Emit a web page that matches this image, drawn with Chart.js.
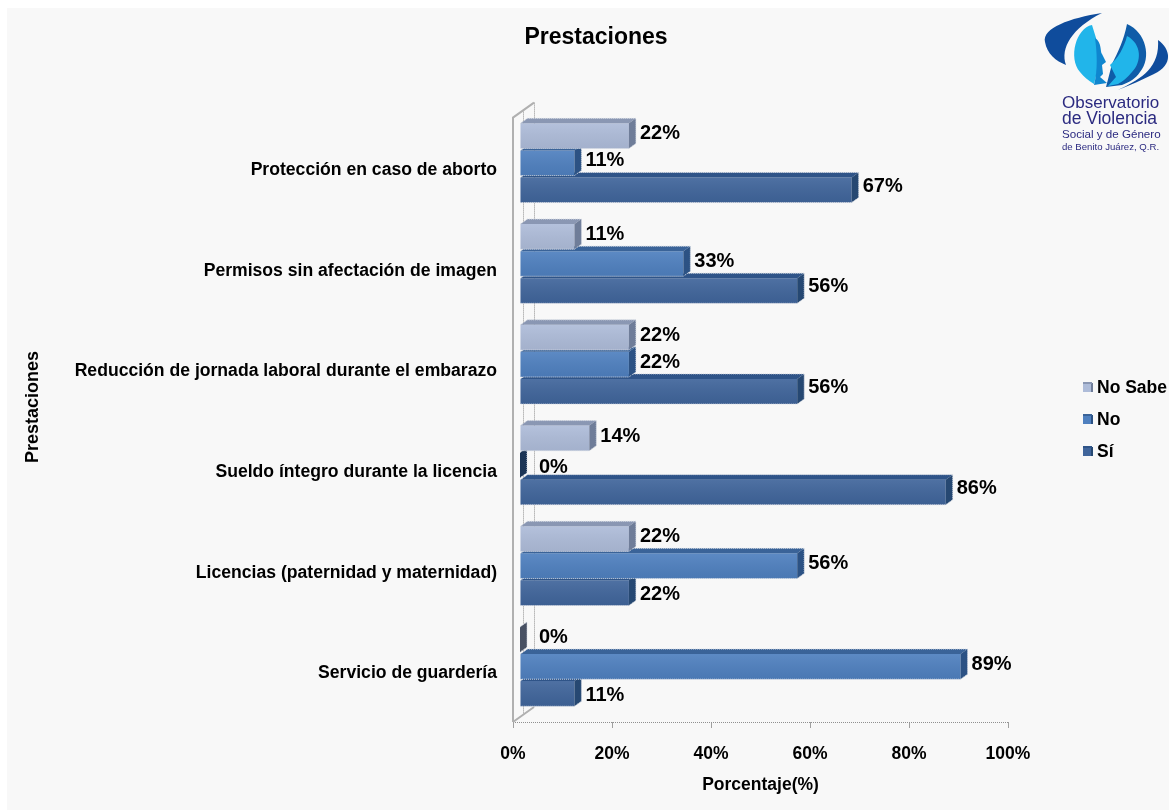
<!DOCTYPE html>
<html>
<head>
<meta charset="utf-8">
<style>
  html, body { margin: 0; padding: 0; background: #fff; }
  #wrap { position: relative; width: 1169px; height: 810px; }
</style>
<script src="https://cdn.jsdelivr.net/npm/chart.js@4"></script>
</head>
<body>
<div id="wrap"><canvas id="chart" width="1169" height="810"></canvas></div>
<script>
const categories = [
  'Protección en caso de aborto',
  'Permisos sin afectación de imagen',
  'Reducción de jornada laboral durante el embarazo',
  'Sueldo íntegro durante la licencia',
  'Licencias (paternidad y maternidad)',
  'Servicio de guardería'
];
const noSabe = [22, 11, 22, 14, 22, 0];
const no = [11, 33, 22, 0, 56, 89];
const si = [67, 56, 56, 86, 22, 11];
const xTicks = [0, 20, 40, 60, 80, 100];
const legendLabels = ['No Sabe', 'No', 'Sí'];
const logoLines = ['Observatorio', 'de Violencia', 'Social y de Género', 'de Benito Juárez, Q.R.'];

// front, top and side colours for each series
const faces = [
  { front: '#aebcd9', top: '#8a97b3', side: '#6f7d99' },
  { front: '#4f80bf', top: '#3a6398', side: '#2c5284' },
  { front: '#40659b', top: '#2f5488', side: '#264872' }
];
const DX = 7, DY = -5;
const FONT = '"Liberation Sans", Arial, sans-serif';

// panel behind everything and the 3D wall of the plot
const backdrop = {
  id: 'backdrop',
  afterLayout(chart) {
    // title is centred on the page panel, not on the padded plot box
    chart.titleBlock.left += 80;
    chart.titleBlock.right += 80;
  },
  beforeDraw(chart) {
    const { ctx } = chart;
    ctx.save();
    ctx.fillStyle = '#f8f8f8';
    ctx.fillRect(7, 8, 1162, 802);
    ctx.restore();
  },
  beforeDatasetsDraw(chart) {
    const { ctx, chartArea: a } = chart;
    ctx.save();
    // back wall dotted edges
    ctx.strokeStyle = '#909090';
    ctx.lineWidth = 1;
    ctx.setLineDash([1, 1]);
    ctx.beginPath();
    ctx.moveTo(a.left + 21.5, a.top - 15);
    ctx.lineTo(a.left + 21.5, a.bottom - 15);
    ctx.moveTo(a.left + 10.5, a.top - 8);
    ctx.lineTo(a.left + 10.5, a.bottom - 8);
    ctx.moveTo(a.left, a.bottom + 0.5);
    ctx.lineTo(a.right, a.bottom + 0.5);
    ctx.stroke();
    ctx.setLineDash([]);
    // side wall
    ctx.strokeStyle = '#b0b0b0';
    ctx.lineWidth = 2;
    ctx.beginPath();
    ctx.moveTo(a.left, a.bottom);
    ctx.lineTo(a.left, a.top);
    ctx.lineTo(a.left + 21, a.top - 15);
    ctx.moveTo(a.left, a.bottom);
    ctx.lineTo(a.left + 21, a.bottom - 15);
    ctx.stroke();
    ctx.restore();
    // bars sit a little inside the wall depth
    ctx.save();
    ctx.translate(DX, DY);
  },
  afterDatasetsDraw(chart) {
    chart.ctx.restore();
  }
};

// top and side faces of every bar, drawn from the bar elements
const faces3d = {
  id: 'faces3d',
  afterDatasetDraw(chart, args) {
    const { ctx } = chart;
    const f = faces[args.index];
    for (const bar of chart.getDatasetMeta(args.index).data) {
      const h = bar.height, t = bar.y - h / 2, b = bar.y + h / 2;
      const l = bar.base, r = bar.x;
      const shade = ctx.createLinearGradient(0, t, 0, b);
      shade.addColorStop(0, 'rgba(255,255,255,0.08)');
      shade.addColorStop(1, 'rgba(0,0,0,0.06)');
      ctx.fillStyle = shade;
      ctx.fillRect(l, t, r - l, h);
      ctx.fillStyle = f.top;
      ctx.beginPath();
      ctx.moveTo(l, t); ctx.lineTo(l + DX, t + DY); ctx.lineTo(r + DX, t + DY); ctx.lineTo(r, t);
      ctx.closePath(); ctx.fill();
      ctx.fillStyle = f.side;
      ctx.beginPath();
      ctx.moveTo(r, t); ctx.lineTo(r + DX, t + DY); ctx.lineTo(r + DX, b + DY); ctx.lineTo(r, b);
      ctx.closePath(); ctx.fill();
      // empty bars only show a dark sliver
      if (r - l < 1) {
        ctx.fillStyle = 'rgba(0,0,0,0.35)';
        ctx.fill();
      }
      // speckled light edge round the top and the side
      ctx.save();
      ctx.strokeStyle = '#d4d9e2';
      ctx.lineWidth = 1;
      ctx.setLineDash([1, 1]);
      ctx.beginPath();
      ctx.moveTo(l, t);
      ctx.lineTo(l + DX, t + DY);
      ctx.lineTo(r + DX, t + DY);
      ctx.lineTo(r + DX, b + DY);
      ctx.lineTo(r, b);
      ctx.lineTo(l, b);
      ctx.stroke();
      ctx.restore();
    }
  }
};

// value labels, legend, rotated axis title and logo text
const annotations = {
  id: 'annotations',
  afterDraw(chart) {
    const { ctx } = chart;
    ctx.save();
    ctx.fillStyle = '#000';
    ctx.font = 'bold 20px ' + FONT;
    ctx.textBaseline = 'middle';
    chart.data.datasets.forEach((ds, i) => {
      chart.getDatasetMeta(i).data.forEach((bar, j) => {
        const v = ds.data[j];
        // labels ride up unless the row under them is free
        let lift = i === 2 ? -4 : -2;
        if (i === 2 && v < no[j]) lift = 2;
        if (i === 1 && v === 0) lift = 2;
        ctx.fillText(v + '%', bar.x + DX + DX + 4 + (v === 0 ? 8 : 0), bar.y + DY + lift);
      });
    });

    ctx.font = 'bold 18px ' + FONT;
    ctx.save();
    ctx.translate(33, 407);
    ctx.rotate(-Math.PI / 2);
    ctx.textAlign = 'center';
    ctx.fillText('Prestaciones', 0, 0);
    ctx.restore();

    ctx.font = 'bold 17.5px ' + FONT;
    legendLabels.forEach((label, i) => {
      const y = 388 + i * 32;
      const f = faces[i];
      ctx.fillStyle = f.front;
      ctx.fillRect(1083, y - 4, 8, 8);
      ctx.fillStyle = f.side;
      ctx.fillRect(1091, y - 5, 2, 9);
      ctx.fillStyle = f.top;
      ctx.fillRect(1083, y - 6, 9, 2);
      ctx.fillStyle = '#000';
      ctx.fillText(label, 1097, y);
    });
    drawLogo(ctx);
    ctx.restore();
  }
};

function drawLogo(ctx) {
  ctx.save();
  // outer swooshes
  ctx.fillStyle = '#0f4c9c';
  ctx.beginPath();
  ctx.moveTo(1102, 13);
  ctx.bezierCurveTo(1070, 18, 1042, 28, 1045, 42);
  ctx.bezierCurveTo(1047, 54, 1056, 61, 1066, 65);
  ctx.bezierCurveTo(1060, 48, 1072, 28, 1102, 13);
  ctx.fill();
  ctx.beginPath();
  ctx.moveTo(1158, 40);
  ctx.bezierCurveTo(1172, 50, 1172, 66, 1154, 74);
  ctx.bezierCurveTo(1142, 80, 1130, 85, 1118, 90);
  ctx.bezierCurveTo(1138, 80, 1160, 70, 1158, 40);
  ctx.fill();
  // left head
  ctx.fillStyle = '#21b5ea';
  ctx.beginPath();
  ctx.moveTo(1092, 25);
  ctx.bezierCurveTo(1076, 28, 1068, 58, 1080, 72);
  ctx.bezierCurveTo(1084, 77, 1088, 80, 1094, 84);
  ctx.lineTo(1100, 60);
  ctx.lineTo(1096, 38);
  ctx.closePath();
  ctx.fill();
  // left face
  ctx.fillStyle = '#0f86cf';
  ctx.beginPath();
  ctx.moveTo(1095, 38);
  ctx.bezierCurveTo(1102, 42, 1100, 52, 1102, 54);
  ctx.lineTo(1106, 62);
  ctx.lineTo(1102, 65);
  ctx.lineTo(1103, 74);
  ctx.lineTo(1100, 77);
  ctx.lineTo(1107, 83);
  ctx.lineTo(1094, 85);
  ctx.bezierCurveTo(1098, 70, 1097, 52, 1095, 38);
  ctx.fill();
  // right head
  ctx.fillStyle = '#0f5ca8';
  ctx.beginPath();
  ctx.moveTo(1127, 24);
  ctx.bezierCurveTo(1146, 32, 1152, 58, 1140, 72);
  ctx.bezierCurveTo(1136, 78, 1130, 82, 1122, 85);
  ctx.lineTo(1106, 87);
  ctx.lineTo(1112, 64);
  ctx.bezierCurveTo(1118, 52, 1124, 40, 1127, 24);
  ctx.fill();
  // right face
  ctx.fillStyle = '#21b5ea';
  ctx.beginPath();
  ctx.moveTo(1127, 36);
  ctx.bezierCurveTo(1142, 44, 1142, 62, 1132, 72);
  ctx.bezierCurveTo(1128, 77, 1122, 82, 1118, 84);
  ctx.lineTo(1108, 86);
  ctx.lineTo(1116, 77);
  ctx.lineTo(1110, 65);
  ctx.bezierCurveTo(1118, 58, 1124, 48, 1127, 36);
  ctx.fill();
  // text
  ctx.fillStyle = '#2b2a80';
  ctx.textBaseline = 'alphabetic';
  ctx.font = '17px ' + FONT;
  ctx.fillText(logoLines[0], 1062, 108);
  ctx.font = '17.5px ' + FONT;
  ctx.fillText(logoLines[1], 1062, 124);
  ctx.font = '11.6px ' + FONT;
  ctx.fillText(logoLines[2], 1062, 138);
  ctx.font = '9.6px ' + FONT;
  ctx.fillText(logoLines[3], 1062, 150);
  ctx.restore();
}

const datasets = [noSabe, no, si].map((data, i) => ({
  label: legendLabels[i],
  data,
  backgroundColor: faces[i].front,
  borderWidth: 0,
  categoryPercentage: 0.805,
  barPercentage: 0.93
}));

new Chart(document.getElementById('chart'), {
  type: 'bar',
  data: { labels: categories, datasets },
  plugins: [backdrop, faces3d, annotations],
  options: {
    indexAxis: 'y',
    responsive: false,
    animation: false,
    clip: false,
    layout: { padding: { left: 24, top: 0, right: 161, bottom: 14 } },
    plugins: {
      legend: { display: false },
      tooltip: { enabled: false },
      title: {
        display: true,
        text: 'Prestaciones',
        color: '#000',
        font: { family: FONT, size: 23, weight: 'bold' },
        padding: { top: 24, bottom: 66 }
      }
    },
    scales: {
      x: {
        min: 0,
        max: 100,
        afterBuildTicks(axis) { axis.ticks = xTicks.map(value => ({ value })); },
        afterFit(axis) { axis.height = 74; },
        grid: { display: true, drawOnChartArea: false, drawTicks: true, tickLength: 6, tickColor: '#a0a0a0' },
        border: { display: false },
        ticks: {
          color: '#000',
          padding: 16,
          maxRotation: 0,
          font: { family: FONT, size: 17.5, weight: 'bold' },
          callback: v => v + '%'
        },
        title: {
          display: true,
          text: 'Porcentaje(%)',
          color: '#000',
          font: { family: FONT, size: 17.5, weight: 'bold' },
          padding: 0
        }
      },
      y: {
        grid: { display: false },
        border: { display: false },
        afterFit(axis) { axis.width = 489; },
        ticks: {
          color: '#000',
          padding: 8,
          labelOffset: 2,
          autoSkip: false,
          font: { family: FONT, size: 17.6, weight: 'bold' }
        }
      }
    }
  }
});
</script>
</body>
</html>
